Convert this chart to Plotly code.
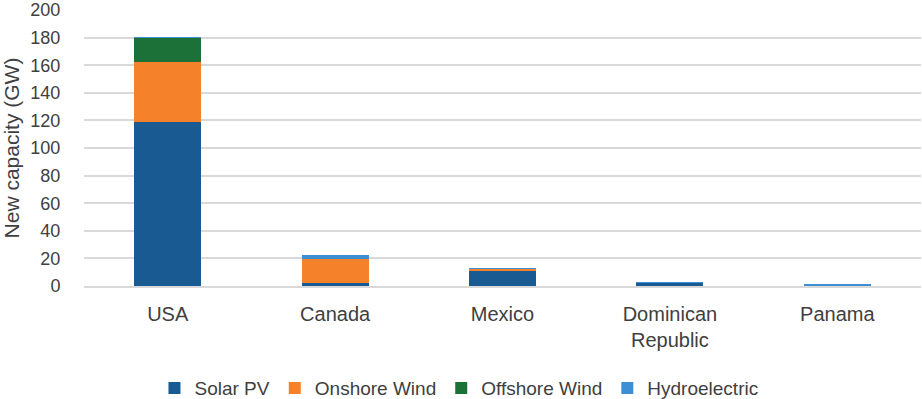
import plotly.graph_objects as go

countries = ["USA", "Canada", "Mexico", "Dominican<br>Republic", "Panama"]
solar_pv = [119, 2, 11, 2.6, 0.6]
onshore_wind = [43.5, 17.4, 1.5, 0, 0]
offshore_wind = [17.3, 0, 0, 0, 0]
hydroelectric = [0.5, 2.9, 0.5, 0.3, 0.6]
y_ticks = [0, 20, 40, 60, 80, 100, 120, 140, 160, 180, 200]

series = [
    ("Solar PV", solar_pv, "#1A5A93"),
    ("Onshore Wind", onshore_wind, "#F5822A"),
    ("Offshore Wind", offshore_wind, "#1C7138"),
    ("Hydroelectric", hydroelectric, "#3D8ED2"),
]

font = "Liberation Sans, Arial, sans-serif"
fig = go.Figure()
for name, vals, col in series:
    fig.add_trace(go.Bar(x=countries, y=vals, name=name, marker_color=col,
                         marker_line_width=0))

fig.update_layout(
    width=922, height=399,
    barmode="stack", bargap=0.6,
    paper_bgcolor="white", plot_bgcolor="white",
    margin=dict(l=84, r=1, t=10, b=113, autoexpand=False),
    font=dict(family=font, size=18, color="#404040"),
    legend=dict(orientation="h", x=0.448, xanchor="center",
                y=-0.37, yanchor="middle",
                font=dict(size=19, color="#404040"), itemwidth=30,
                traceorder="normal"),
    showlegend=True,
)
fig.update_yaxes(range=[0, 200], tickvals=y_ticks, showgrid=True,
                 gridcolor="#D9D9D9", gridwidth=1.5, zeroline=False,
                 showline=False, ticks="outside", ticklen=19,
                 tickcolor="rgba(0,0,0,0)", tickfont=dict(size=18),
                 automargin=False,
                 title=dict(text="New capacity (GW)", standoff=12,
                            font=dict(size=21, color="#404040")))
fig.update_xaxes(showline=True, linecolor="#D9D9D9", linewidth=1.5,
                 ticks="outside", ticklen=9, tickcolor="rgba(0,0,0,0)",
                 tickfont=dict(size=20), automargin=False)

fig.write_html("out.html", config={"displayModeBar": False},
               post_script="document.body.style.margin='0';document.body.style.overflow='hidden';")
